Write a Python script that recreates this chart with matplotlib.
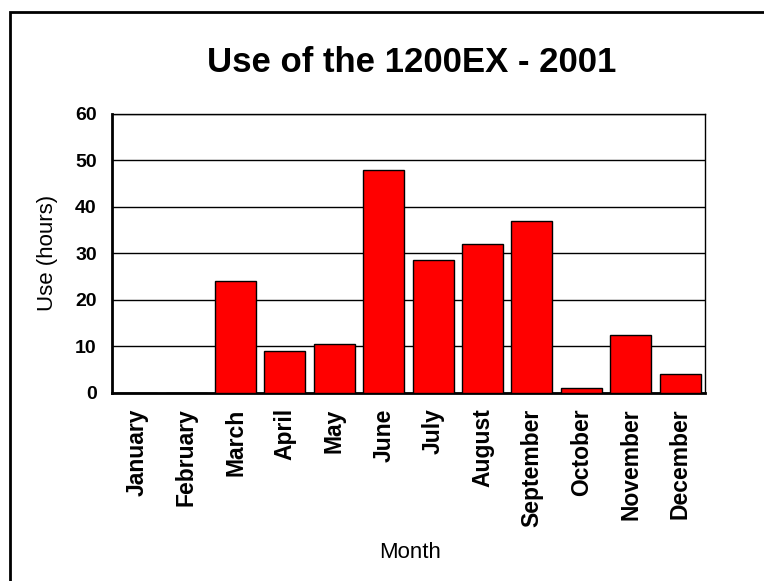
import matplotlib
matplotlib.use("Agg")
import matplotlib.pyplot as plt
from matplotlib.patches import Rectangle

months = ["January", "February", "March", "April", "May", "June", "July",
          "August", "September", "October", "November", "December"]
hours = [0, 0, 24, 9, 10.5, 48, 28.5, 32, 37, 1, 12.5, 4]
y_ticks = [0, 10, 20, 30, 40, 50, 60]

plt.rcParams["font.family"] = ["Liberation Sans", "DejaVu Sans"]

fig = plt.figure(figsize=(7.64, 5.81), dpi=100)
ax = fig.add_axes([0.1466, 0.3236, 0.776, 0.4802])

x = list(range(len(months)))
ax.bar(x, hours, width=0.83, color="#ff0000", edgecolor="black",
       linewidth=1.0, zorder=3)

ax.set_xlim(-0.5, len(months) - 0.5)
ax.set_ylim(0, 60)
ax.set_yticks(y_ticks)
ax.set_yticklabels([str(t) for t in y_ticks], fontsize=14, fontweight="bold")
ax.set_xticks(x)
ax.set_xticklabels(months, rotation=90, fontsize=16.5, fontweight="bold",
                   va="top")
ax.tick_params(axis="x", length=0, pad=11)
ax.tick_params(axis="y", length=0, pad=11)
ax.yaxis.grid(True, color="black", linewidth=1.0, zorder=0)
ax.set_axisbelow(True)

for side in ("top", "right"):
    ax.spines[side].set_linewidth(1.0)
for side in ("left", "bottom"):
    ax.spines[side].set_linewidth(2.0)

fig.text(48 / 764, 1 - 253 / 581, "Use (hours)", fontsize=16,
         rotation=90, ha="center", va="center")
fig.text(410 / 764, 1 - 552 / 581, "Month", fontsize=16,
         ha="center", va="center")
fig.text(412 / 764, 1 - 62 / 581, "Use of the 1200EX - 2001", fontsize=25,
         fontweight="bold", ha="center", va="center")

# outer chart frame
fig.patches.append(Rectangle((10 / 764, -0.1), 1.2, 1 - 12 / 581 + 0.1,
                             transform=fig.transFigure, fill=False,
                             edgecolor="black", linewidth=2.0))

fig.savefig("out.png", dpi=100, facecolor="white")
